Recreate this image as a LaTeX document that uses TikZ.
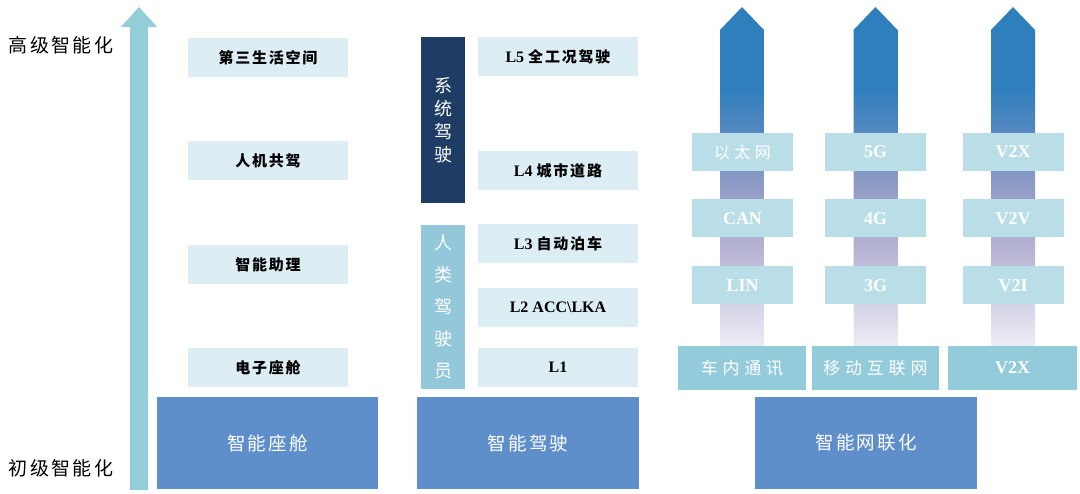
\documentclass[tikz,border=0pt]{standalone}
\usepackage{fontspec}
\setmainfont{Liberation Serif}
\newfontfamily\cjk{Noto Sans CJK SC}[LetterSpace=12]
\newfontfamily\cjkwide{Noto Sans CJK SC}[LetterSpace=28]
\definecolor{lightfill}{HTML}{DCEEF4}
\definecolor{bigfill}{HTML}{5F8FCB}
\definecolor{darkfill}{HTML}{1F3D64}
\definecolor{humanfill}{HTML}{93C8DA}
\definecolor{netfill}{HTML}{B9DEE7}
\definecolor{basefill}{HTML}{93CBDA}
\definecolor{arrowc}{HTML}{93CDD8}
\definecolor{gzero}{HTML}{EDECF5}
\definecolor{gone}{HTML}{B6B3D3}
\definecolor{gtwo}{HTML}{8F9BC6}
\definecolor{gthree}{HTML}{5087C0}
\definecolor{gfour}{HTML}{2F7FBD}
\pgfdeclareverticalshading{netgrad}{100bp}{color(0bp)=(gzero); color(25bp)=(gzero); color(39.5bp)=(gone); color(49bp)=(gtwo); color(57.5bp)=(gthree); color(63bp)=(gfour); color(75bp)=(gfour); color(100bp)=(gfour)}
\tikzset{
  every node/.style={inner sep=0pt, outer sep=0pt},
  lbox/.style={fill=lightfill, minimum width=160pt, minimum height=39pt, text=black, font=\fontsize{16}{18}\selectfont\bfseries},
  bigbox/.style={fill=bigfill, minimum width=221pt, minimum height=92pt, text=white, font=\fontsize{18.5}{20}\selectfont\cjk},
  netbox/.style={fill=netfill, minimum width=101pt, minimum height=38pt, text=white, font=\fontsize{18}{20}\selectfont\bfseries},
  basebox/.style={fill=basefill, minimum height=44pt, text=white, font=\fontsize{18}{20}\selectfont\bfseries},
  sidelabel/.style={text=black, font=\fontsize{19}{21}\selectfont\cjk},
  cjklab/.style={font=\fontsize{15}{17}\selectfont\bfseries\cjk},
}
\begin{document}
\begin{tikzpicture}[x=1pt,y=-1pt]
\useasboundingbox (0,0) rectangle (1080,494);
\fill[white] (0,0) rectangle (1080,494);

% left arrow
\fill[arrowc] (130,490) -- (130,27) -- (121,27) -- (139,7) -- (157,27) -- (148,27) -- (148,490) -- cycle;
\node[sidelabel] (hi) at (61,45) {高级智能化};
\node[sidelabel] (lo) at (61,468) {初级智能化};

% left column
\node[lbox, cjklab] (c4) at (268,57.5) {第三生活空间};
\node[lbox, cjklab] (c3) at (268,160.5) {人机共驾};
\node[lbox, cjklab] (c2) at (268,264.5) {智能助理};
\node[lbox, cjklab] (c1) at (268,367.5) {电子座舱};
\node[bigbox] (cab) at (267.5,443) {智能座舱};

% middle column
\node[fill=darkfill, minimum width=44pt, minimum height=166pt, text=white, align=center, font=\fontsize{18}{23}\selectfont\cjk] (sys) at (443,120) {系\\统\\驾\\驶};
\node[fill=humanfill, minimum width=44pt, minimum height=164pt, text=white, align=center, font=\fontsize{18}{32}\selectfont\cjk] (hum) at (443,307) {人\\类\\驾\\驶\\员};
\node[lbox] (l5) at (558,57) {L5 {\fontsize{15}{17}\selectfont\cjk 全工况驾驶}};
\node[lbox] (l4) at (558,170.5) {L4 {\fontsize{15}{17}\selectfont\cjk 城市道路}};
\node[lbox] (l3) at (558,243.5) {L3 {\fontsize{15}{17}\selectfont\cjk 自动泊车}};
\node[lbox] (l2) at (558,307.5) {L2 ACC\textbackslash LKA};
\node[lbox] (l1) at (558,367.5) {L1};
\node[bigbox, minimum width=222pt] (drv) at (528,443) {智能驾驶};

% network arrows
\foreach \cx in {742,875.5,1013}{
  \shade[shading=netgrad] (\cx-22,347) -- (\cx-22,30) -- (\cx,7) -- (\cx+22,30) -- (\cx+22,347) -- cycle;
}
\node[netbox] (e3) at (742.5,152) {\fontsize{16}{18}\selectfont\cjkwide\mdseries 以太网};
\node[netbox] (e2) at (742.5,218.5) {CAN};
\node[netbox] (e1) at (742.5,285.5) {LIN};
\node[netbox] (m3) at (875.5,152) {5G};
\node[netbox] (m2) at (875.5,218.5) {4G};
\node[netbox] (m1) at (875.5,285.5) {3G};
\node[netbox] (v3) at (1013,152) {V2X};
\node[netbox] (v2) at (1013,218.5) {V2V};
\node[netbox] (v1) at (1013,285.5) {V2I};
\node[basebox, minimum width=128pt] (b1) at (742,368) {\fontsize{17}{19}\selectfont\cjkwide\mdseries 车内通讯};
\node[basebox, minimum width=127pt] (b2) at (875.5,368) {\fontsize{17}{19}\selectfont\cjkwide\mdseries 移动互联网};
\node[basebox, minimum width=129pt] (b3) at (1012.5,368) {V2X};
\node[bigbox, minimum width=222pt] (net) at (866,443) {智能网联化};
\end{tikzpicture}
\end{document}
